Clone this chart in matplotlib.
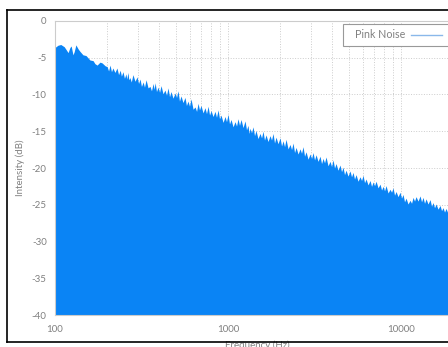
"""Spectre de bruit rose (pink noise)"""
import matplotlib
matplotlib.use("Agg")
import matplotlib.pyplot as plt
from matplotlib.lines import Line2D
from matplotlib.patches import Rectangle
from matplotlib.ticker import LogLocator, FixedLocator, NullFormatter

# Sommets du contour: fréquence (Hz) / intensité (dB)
peak_hz = [
    100, 104, 108, 113, 116, 119, 122, 124, 127, 129,
    132, 136, 139, 145, 151, 155, 159, 166, 170, 175,
    182, 187, 195, 200, 208, 216, 228, 238, 247, 257,
    264, 271, 282, 298, 310, 323, 336, 354, 369, 379,
    394, 410, 432, 450, 468, 494, 514, 535, 564, 587,
    611, 645, 671, 698, 736, 767, 798, 841, 876, 911,
    961, 1000, 1041, 1098, 1142, 1189, 1254, 1305, 1340, 1395,
    1451, 1531, 1593, 1658, 1749, 1820, 1894, 1998, 2080, 2164,
    2283, 2376, 2473, 2608, 2714, 2825, 2979, 3100, 3227, 3403,
    3542, 3686, 3887, 4046, 4210, 4440, 4621, 4809, 5072, 5279,
    5494, 5795, 6031, 6277, 6620, 6890, 7171, 7563, 7871, 8191,
    8640, 8990, 9357, 9868, 10270, 10688, 11273, 11732, 12210, 12877,
    13402, 13948, 14711, 15310, 15932, 16806, 17491, 18202, 19198, 20516,
    22050,
]
peak_db = [
    -3.6, -3.3, -3.2, -3.5, -3.9, -4.3, -3.6, -3.4, -4.6, -4.2,
    -3.25, -3.8, -4.1, -4.6, -4.7, -5.0, -5.3, -5.4, -5.8, -6.0,
    -5.6, -5.7, -6.1, -6.2, -6.0, -6.4, -6.4, -6.7, -6.9, -7.2,
    -7.0, -7.7, -7.3, -7.6, -7.9, -8.3, -8.0, -8.9, -8.5, -8.4,
    -9.0, -8.8, -9.4, -9.1, -9.6, -9.8, -9.5, -10.2, -10.4, -10.9,
    -10.6, -11.7, -11.2, -11.5, -11.8, -11.6, -12.2, -12.3, -12.1, -12.8,
    -13.0, -12.7, -13.4, -13.7, -13.3, -13.4, -13.6, -14.2, -14.6, -14.4,
    -14.9, -15.3, -15.0, -15.5, -15.6, -15.3, -15.8, -15.9, -16.3, -16.1,
    -16.8, -16.6, -17.2, -17.4, -17.1, -17.8, -18.1, -17.9, -18.2, -18.4,
    -18.7, -18.5, -19.1, -18.9, -19.4, -19.6, -19.9, -20.3, -20.4, -20.6,
    -20.9, -21.2, -21.0, -21.5, -21.7, -21.9, -21.8, -22.2, -22.5, -22.4,
    -22.9, -22.7, -23.2, -23.3, -23.6, -24.1, -24.4, -24.0, -23.9, -23.8,
    -24.0, -24.2, -24.3, -24.7, -24.9, -25.1, -25.4, -25.5, -25.7, -25.9,
    -26.1,
]

# Creux entre les pointes (texture du bruit)
dip_hz = [
    204, 212, 222, 233, 242, 252, 260, 267, 276, 290,
    304, 316, 329, 345, 361, 374, 386, 402, 421, 441,
    459, 481, 504, 524, 549, 575, 599, 628, 658, 684,
    717, 751, 782, 819, 858, 893, 936, 980, 1020, 1069,
    1120, 1165, 1221, 1279, 1322, 1367, 1423, 1490, 1562, 1625,
    1703, 1784, 1857, 1945, 2039, 2122, 2223, 2329, 2424, 2540,
    2660, 2769, 2901, 3039, 3163, 3314, 3472, 3613, 3785, 3966,
    4127, 4323, 4530, 4714, 4939, 5174, 5385, 5643, 5912, 6153,
    6446, 6754, 7029, 7364, 7716, 8029, 8412, 8813, 9172, 9609,
    10067, 10477, 10976, 11500, 11969, 12539, 13137, 13672, 14324, 15008,
    15618, 16363, 17145, 17843, 18693, 19846, 21270,
]
dip_db = [
    -6.8, -6.9, -7.0, -7.3, -7.5, -7.8, -7.9, -8.0, -8.3, -8.2,
    -8.5, -8.9, -9.0, -9.1, -9.5, -9.3, -9.6, -9.7, -9.9, -10.1,
    -10.3, -10.5, -10.4, -10.9, -11.1, -11.5, -11.6, -12.0, -12.3, -12.1,
    -12.5, -12.6, -12.8, -13.0, -13.1, -13.3, -13.8, -13.7, -14.0, -14.4,
    -14.3, -14.2, -14.5, -14.8, -15.3, -15.2, -15.6, -16.0, -15.9, -16.2,
    -16.4, -16.2, -16.6, -16.7, -17.0, -17.1, -17.4, -17.5, -17.9, -18.1,
    -18.0, -18.4, -18.8, -18.7, -18.9, -19.1, -19.4, -19.3, -19.7, -19.8,
    -20.0, -20.3, -20.5, -20.9, -21.1, -21.2, -21.5, -21.8, -21.7, -22.0,
    -22.3, -22.5, -22.4, -22.7, -23.0, -23.1, -23.4, -23.3, -23.7, -23.9,
    -24.1, -24.6, -24.9, -24.8, -24.5, -24.5, -24.6, -24.8, -24.9, -25.2,
    -25.4, -25.6, -25.8, -26.0, -26.2, -26.4, -26.5,
]

y_ticks = [0, -5, -10, -15, -20, -25, -30, -35, -40]
x_ticks = [100, 1000, 10000]
series_label = "Pink Noise"

text_gray = "#808080"
fill_blue = "#0a84f5"

# Fusion des sommets et des creux, triés par fréquence
points = sorted(zip(peak_hz + dip_hz, peak_db + dip_db))
freq_hz = [p[0] for p in points]
intensity_db = [p[1] for p in points]

plt.rcParams["font.family"] = ["Lato", "DejaVu Sans"]

fig = plt.figure(figsize=(4.48, 3.47), dpi=100)
ax = fig.add_axes([0.1228, 0.0922, 0.905, 0.8473])

# Aire remplie sous la courbe
ax.fill_between(freq_hz, intensity_db, -40, color=fill_blue, lw=0, zorder=2)

ax.set_xscale("log")
ax.set_xlim(100, 22050)
ax.set_ylim(-40, 0)

ax.xaxis.set_major_locator(FixedLocator(x_ticks))
ax.set_xticklabels([str(t) for t in x_ticks])
ax.xaxis.set_minor_locator(LogLocator(base=10, subs=range(2, 10)))
ax.xaxis.set_minor_formatter(NullFormatter())
ax.set_yticks(y_ticks)
ax.set_yticklabels([str(t) for t in y_ticks])

ax.tick_params(which="both", length=0, labelsize=7, colors=text_gray)
ax.tick_params(axis="y", pad=6)
ax.tick_params(axis="x", pad=7)

# Grille pointillée
ax.grid(True, which="major", color="#cccccc", linestyle=":", linewidth=0.7, zorder=0)
ax.grid(True, which="minor", axis="x", color="#cccccc", linestyle=":", linewidth=0.7, zorder=0)

for side in ax.spines.values():
    side.set_color("#cccccc")
    side.set_linewidth(0.8)

ax.set_xlabel("Frequency (Hz)", fontsize=7, color=text_gray, labelpad=5)
ax.set_ylabel("Intensity (dB)", fontsize=7, color=text_gray, labelpad=5)

# Cadre de la légende
ax.add_patch(Rectangle((343 / 448, 1 - 46 / 347), 130 / 448, 22 / 347,
                       transform=fig.transFigure, facecolor="white",
                       edgecolor="#999999", lw=0.8, clip_on=False, zorder=4))

# Légende : texte puis trait
handle = Line2D([], [], color="#8ab8ea", lw=1.0)
leg = ax.legend([handle], [series_label], loc="center left",
                bbox_to_anchor=(355 / 448, 1 - 35 / 347), bbox_transform=fig.transFigure,
                markerfirst=False, fontsize=7.7, handlelength=2.9, handletextpad=0.55,
                borderpad=0, borderaxespad=0, frameon=False)
leg.set_zorder(5)
for t in leg.get_texts():
    t.set_color(text_gray)

# Cadre noir de la capture
fig.add_artist(Line2D([7 / 448, 1], [1 - 9.5 / 347, 1 - 9.5 / 347], color="black", lw=1.2))
fig.add_artist(Line2D([7 / 448, 7 / 448], [1 - 9.5 / 347, 1 - 342 / 347], color="black", lw=1.2))
fig.add_artist(Line2D([7 / 448, 1], [1 - 342 / 347, 1 - 342 / 347], color="black", lw=1.2))

fig.savefig("out.png", dpi=100)
